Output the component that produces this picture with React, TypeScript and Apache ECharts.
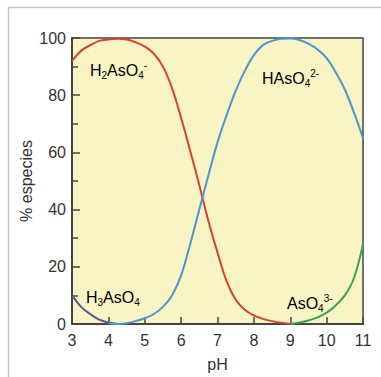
import React, { useEffect, useRef } from "react";
import * as echarts from "echarts";

const xTicks = [3, 4, 5, 6, 7, 8, 9, 10, 11];
const yTicks = [0, 20, 40, 60, 80, 100];

const phH3 = [3.0, 3.25, 3.5, 3.75, 4.0, 4.25];
const valH3 = [10, 6, 3.5, 1.5, 0.5, 0];

const phH2 = [3.0, 3.25, 3.5, 3.75, 4.0, 4.25, 4.5, 4.75, 5.0, 5.25, 5.5, 5.75, 6.0, 6.25, 6.5, 6.75, 7.0, 7.25, 7.5, 7.75, 8.0, 8.25, 8.5, 8.75, 9.0];
const valH2 = [92, 95.5, 97.5, 99, 99.5, 99.7, 99.5, 98.5, 97, 94.5, 90, 82.5, 72, 60.5, 48.5, 36, 25, 15, 8.5, 5, 3, 1.8, 1, 0.4, 0];

const phH1 = [4.0, 4.25, 4.5, 4.75, 5.0, 5.25, 5.5, 5.75, 6.0, 6.25, 6.5, 6.75, 7.0, 7.25, 7.5, 7.75, 8.0, 8.25, 8.5, 8.75, 9.0, 9.25, 9.5, 9.75, 10.0, 10.25, 10.5, 10.75, 11.0];
const valH1 = [0.3, 0, 0.3, 1, 2, 3.5, 6, 10, 17, 28, 40, 52, 63.5, 73, 81.5, 88.5, 94, 97.5, 99, 99.7, 99.8, 99.3, 98, 96, 93, 88, 82, 74, 65];

const phH0 = [9.0, 9.25, 9.5, 9.75, 10.0, 10.25, 10.5, 10.75, 11.0];
const valH0 = [0, 0.5, 1.2, 2.3, 4, 6.5, 10, 16, 28];

const pairs = (xs: number[], ys: number[]) => xs.map((x, i) => [x, ys[i]]);

const FONT = "'Liberation Sans', Arial, Helvetica, sans-serif";
const TXT = "#333333";

const rich = {
  b: { fontSize: 16, fontFamily: FONT, color: TXT, lineHeight: 20 },
  sub: { fontSize: 10, fontFamily: FONT, color: TXT, lineHeight: 20, verticalAlign: "bottom" },
  sup: { fontSize: 10, fontFamily: FONT, color: TXT, lineHeight: 20, verticalAlign: "top" },
};

export default function App() {
  const ref = useRef<HTMLDivElement>(null);
  useEffect(() => {
    if (!ref.current) return;
    const chart = echarts.init(ref.current, null, { renderer: "svg" });
    const line = (name: string, data: number[][], color: string) => ({
      name,
      type: "line",
      data,
      smooth: 0.4,
      showSymbol: false,
      lineStyle: { color, width: 2 },
      z: 3,
    });
    chart.setOption({
      animation: false,
      backgroundColor: "#ffffff",
      grid: {
        left: 72,
        right: 18,
        top: 38,
        bottom: 49,
        show: true,
        backgroundColor: "#f9f4c4",
        borderColor: "#444",
        borderWidth: 1.5,
      },
      xAxis: {
        type: "value",
        min: 3,
        max: 11,
        interval: 1,
        name: "pH",
        nameLocation: "middle",
        nameGap: 32,
        nameMoveOverlap: false,
        nameTextStyle: { fontSize: 16, fontFamily: FONT, color: TXT },
        axisLine: { show: true, lineStyle: { color: "#444", width: 2 } },
        axisTick: { show: true, inside: true, length: 7, lineStyle: { color: "#444", width: 1.5 } },
        axisLabel: {
          fontSize: 16,
          fontFamily: FONT,
          color: TXT,
          margin: 8,
          formatter: (v: number) => (xTicks.includes(v) ? String(v) : ""),
        },
        splitLine: { show: false },
      },
      yAxis: {
        type: "value",
        min: 0,
        max: 100,
        interval: 20,
        name: "% especies",
        nameLocation: "middle",
        nameGap: 38,
        nameMoveOverlap: false,
        nameTextStyle: { fontSize: 16, fontFamily: FONT, color: TXT },
        axisLine: { show: true, lineStyle: { color: "#444", width: 2 } },
        axisTick: { show: true, inside: true, length: 8, lineStyle: { color: "#444", width: 1.5 } },
        minorTick: { show: true, splitNumber: 2, length: 6, lineStyle: { color: "#444", width: 1.5 } },
        axisLabel: {
          fontSize: 16,
          fontFamily: FONT,
          color: TXT,
          margin: 6,
          formatter: (v: number) => (yTicks.includes(v) ? String(v) : ""),
        },
        splitLine: { show: false },
      },
      series: [
        line("H3AsO4", pairs(phH3, valH3), "#5a5796"),
        line("H2AsO4-", pairs(phH2, valH2), "#d5432f"),
        line("HAsO4 2-", pairs(phH1, valH1), "#4b97cf"),
        line("AsO4 3-", pairs(phH0, valH0), "#40a050"),
      ],
      graphic: [
        { type: "line", shape: { x1: 8.5, y1: 7.5, x2: 381, y2: 7.5 }, style: { stroke: "#c4c4c4", lineWidth: 1.5 } },
        { type: "line", shape: { x1: 8.5, y1: 7.5, x2: 8.5, y2: 377 }, style: { stroke: "#c4c4c4", lineWidth: 1.5 } },
        {
          type: "text",
          x: 90,
          y: 60,
          z: 10,
          style: { text: "{b|H}{sub|2}{b|AsO}{sub|4}{sup|-}", rich },
        },
        {
          type: "text",
          x: 262,
          y: 68,
          z: 10,
          style: { text: "{b|HAsO}{sub|4}{sup|2-}", rich },
        },
        {
          type: "text",
          x: 86,
          y: 287,
          z: 10,
          style: { text: "{b|H}{sub|3}{b|AsO}{sub|4}", rich },
        },
        {
          type: "text",
          x: 287,
          y: 293,
          z: 10,
          style: { text: "{b|AsO}{sub|4}{sup|3-}", rich },
        },
      ],
    });
    return () => chart.dispose();
  }, []);
  return (
    <div
      ref={ref}
      style={{ position: "fixed", left: 0, top: 0, width: 381, height: 377 }}
    />
  );
}
